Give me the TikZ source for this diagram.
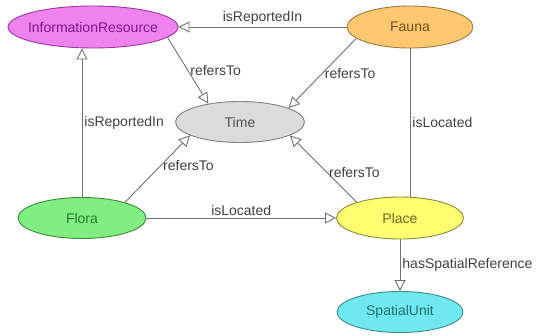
\documentclass[tikz,border=0pt]{standalone}
\usepackage{fontspec}
\setmainfont{Liberation Sans}
\usetikzlibrary{arrows.meta,shapes.geometric}
\definecolor{irfill}{HTML}{EE82EE}\definecolor{irdraw}{HTML}{9A3A9A}\definecolor{irtext}{HTML}{7A1A8A}
\definecolor{fafill}{HTML}{FFC870}\definecolor{fadraw}{HTML}{9A7A40}\definecolor{fatext}{HTML}{705020}
\definecolor{tifill}{HTML}{DCDCDC}\definecolor{tidraw}{HTML}{808080}\definecolor{titext}{HTML}{505050}
\definecolor{flfill}{HTML}{80EE80}\definecolor{fldraw}{HTML}{3A8A3A}\definecolor{fltext}{HTML}{2A7A2A}
\definecolor{plfill}{HTML}{FFFF70}\definecolor{pldraw}{HTML}{8A8A3A}\definecolor{pltext}{HTML}{6A6A20}
\definecolor{sufill}{HTML}{70E8F0}\definecolor{sudraw}{HTML}{3A8A8A}\definecolor{sutext}{HTML}{207070}
\definecolor{edgegray}{HTML}{707070}\definecolor{labelgray}{HTML}{404040}

\begin{document}
\begin{tikzpicture}[x=1pt,y=-1pt,
	every node/.style={font=\fontsize{14}{16}\selectfont},
	cls/.style={ellipse,draw,line width=0.9pt,inner sep=0pt,minimum height=42pt},
	rel/.style={draw=edgegray,line width=0.9pt,-{Triangle[open,length=11pt,width=11pt]}},
	plain/.style={draw=edgegray,line width=0.9pt},
	lbl/.style={text=labelgray,inner sep=2pt}]
	\useasboundingbox (0,0) rectangle (541,335);
	\node (IR) [cls,fill=irfill,draw=irdraw,text=irtext,minimum width=170pt,inner xsep=-5pt] at (93,27) {InformationResource};
	\node (Fauna) [cls,fill=fafill,draw=fadraw,text=fatext,minimum width=126pt,node distance=317pt,right of=IR] {Fauna};
	\node (Time) [cls,fill=tifill,draw=tidraw,text=titext,minimum width=129pt,minimum height=41pt] at (240,122) {Time};
	\node (Flora) [cls,fill=flfill,draw=fldraw,text=fltext,minimum width=128pt,minimum height=41pt] at (82,218) {Flora};
	\node (Place) [cls,fill=plfill,draw=pldraw,text=pltext,minimum width=127pt] at (400,218) {Place};
	\node (SU) [cls,fill=sufill,draw=sudraw,text=sutext,minimum width=126pt,minimum height=41pt,node distance=94pt,below of=Place] {SpatialUnit};
	\draw[rel] (Fauna) to node [lbl,above] {isReportedIn} (IR);
	\draw[rel] (IR.-8) to node [lbl,right] {refersTo} (Time.150);
	\draw[rel] (Fauna.192) to node [lbl,right] {refersTo} (Time.16);
	\draw[rel] (Flora.north) to node [lbl,right] {isReportedIn} (Flora.north |- IR.south);
	\draw[rel] (Flora.20) to node [lbl,right,pos=0.55] {refersTo} (Time.195);
	\draw[rel] (Place.160) to node [lbl,right,pos=0.45] {refersTo} (Time.-15);
	\draw[plain] (Fauna.south) to node [lbl,right] {isLocated} (Fauna.south |- Place.north);
	\draw[rel] (Flora) to node [lbl,above] {isLocated} (Place);
	\draw[rel] (Place) to node [lbl,right] {hasSpatialReference} (SU);
\end{tikzpicture}
\end{document}
